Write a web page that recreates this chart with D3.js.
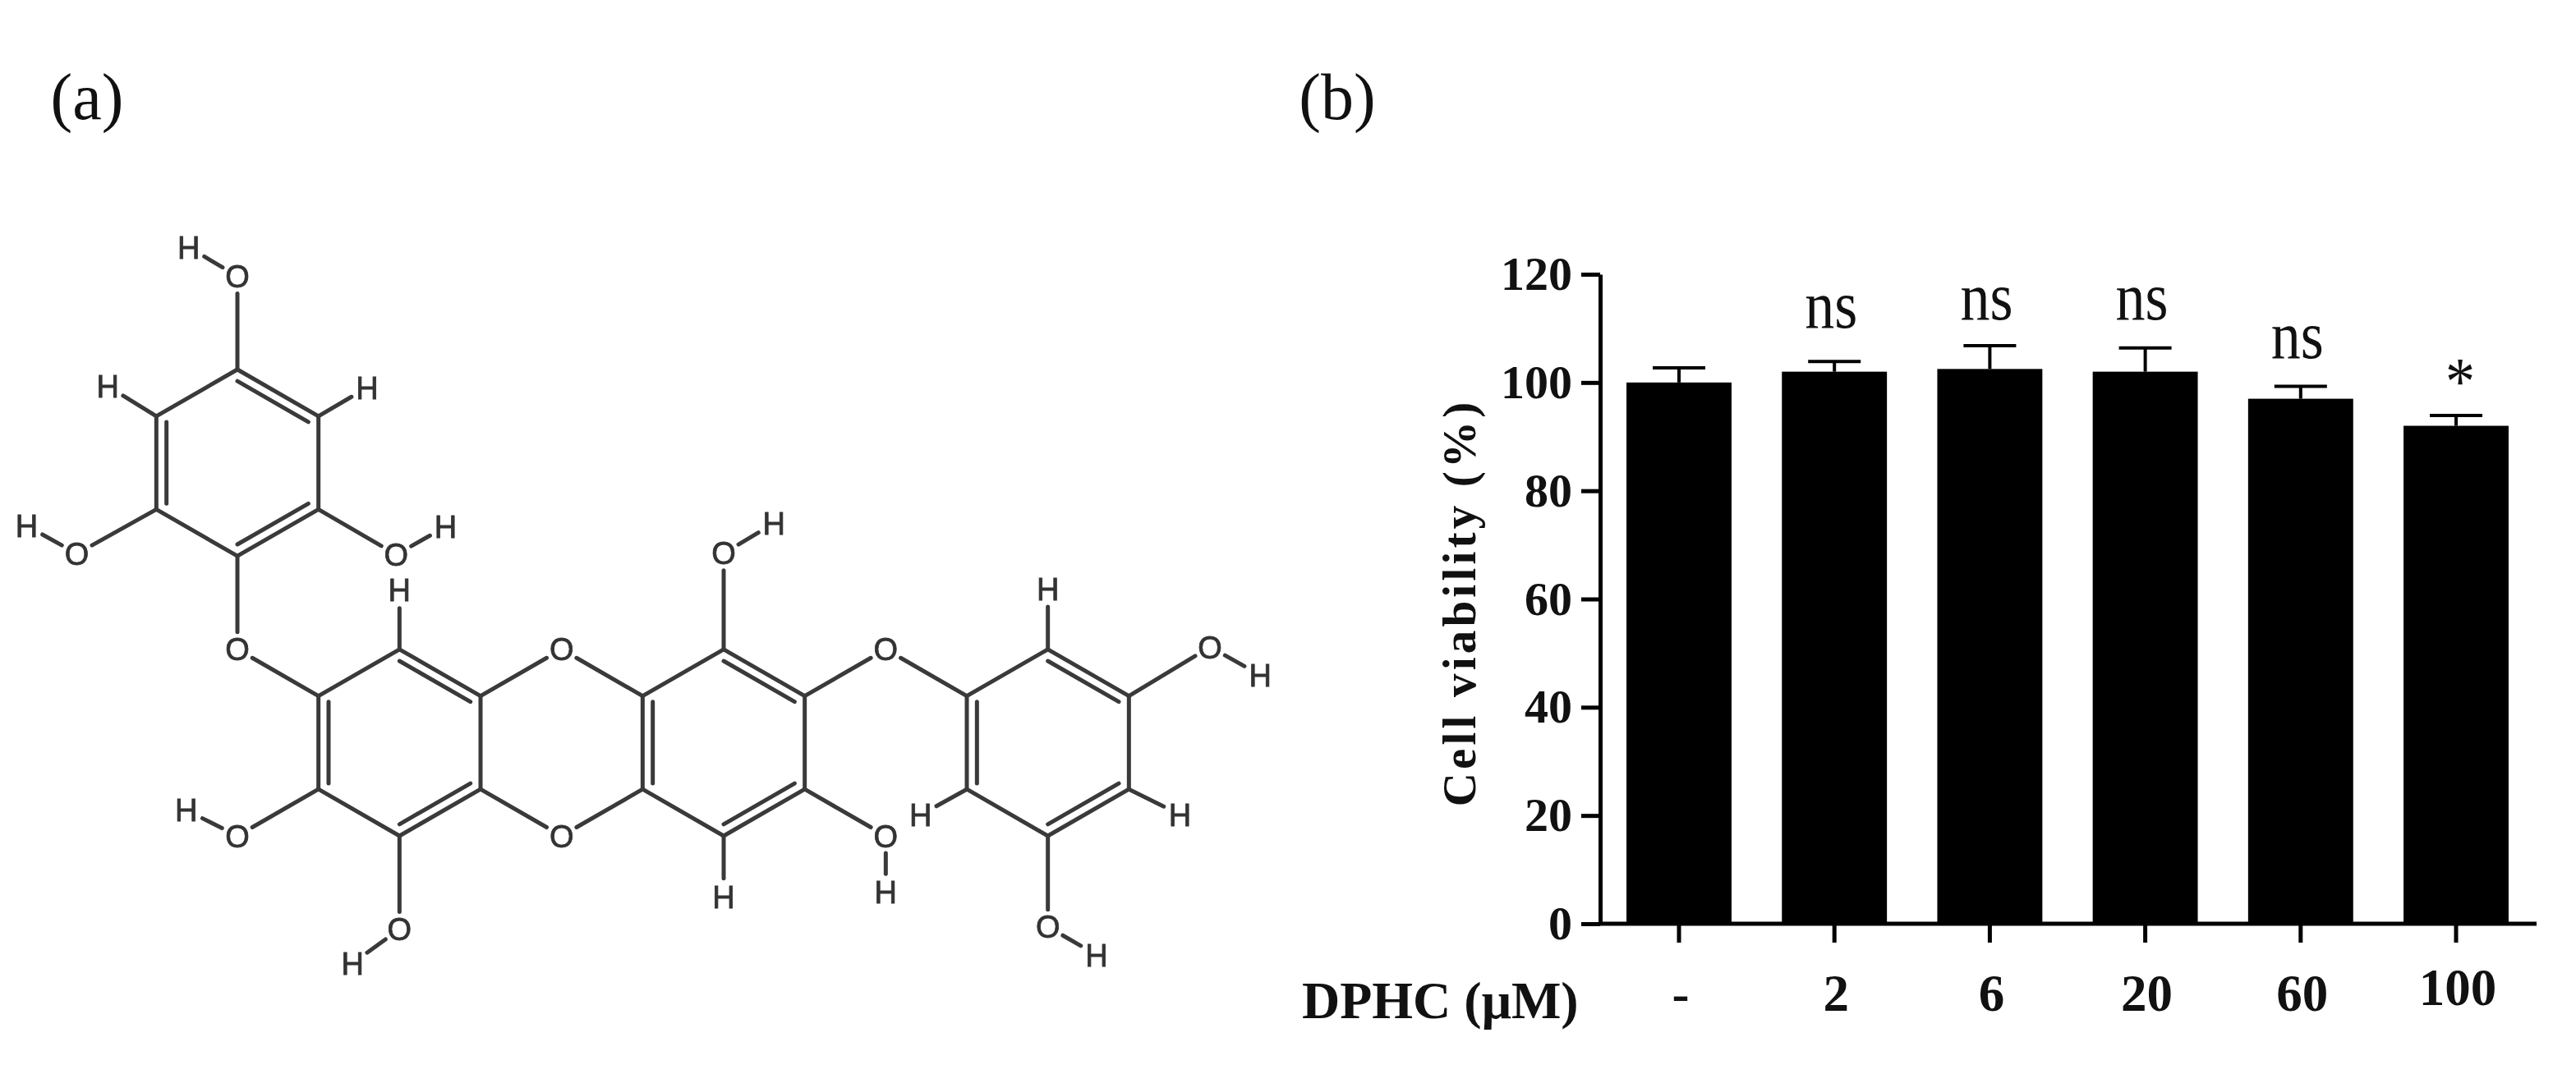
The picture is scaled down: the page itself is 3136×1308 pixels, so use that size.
<!DOCTYPE html>
<html><head><meta charset="utf-8">
<script src="https://cdnjs.cloudflare.com/ajax/libs/d3/7.8.5/d3.min.js"></script>
<style>html,body{margin:0;padding:0;background:#fff}svg{display:block;filter:blur(0.7px)}</style>
</head><body><svg id="c" width="3136" height="1308"></svg>
<script>
// ---- bar chart data
const categories = ["-", "2", "6", "20", "60", "100"];
const viability = [100, 102, 102.5, 102, 97, 92];
const errorTop = [102.7, 103.9, 106.8, 106.4, 99.3, 93.9];
const sigLabels = ["", "ns", "ns", "ns", "ns", "*"];
const sigValues = [null, 110.1, 111.7, 111.7, 104.5, 96];
const yTicks = [0, 20, 40, 60, 80, 100, 120];
const xLabelRaise = [0, 0, 0, 0, 0, 7];
// ---- molecule data, on a hexagonal lattice (column, row)
const ringNames = ["a", "b", "c", "d"];
const ringTops = [[0, 0], [2, 6], [6, 6], [10, 6]];
const ringOffsets = [[0, 0], [1, 1], [1, 3], [0, 4], [-1, 3], [-1, 1]];
const doubleEdges = [[0, 1], [2, 3], [4, 5]];
const heteroAtoms = [
  ["o1","O",0,-2],["h1","H",-.6,-2.62],["o2","O",-1.98,3.95],["h2","H",-2.6,3.35],
  ["o3","O",1.96,3.97],["h3","H",2.57,3.37],["h4","H",-1.6,.36],["h5","H",1.6,.39],
  ["o4","O",0,6],["h6","H",2,4.73],["o5","O",4,6],["o6","O",4,10],
  ["o7","O",0,10],["h7","H",-.63,9.45],["o8","O",2,12],["h8","H",1.42,12.73],
  ["o9","O",6,3.94],["h9","H",6.62,3.3],["o10","O",8,6],["h10","H",10,4.7],
  ["o11","O",12,5.95],["h11","H",12.62,6.55],["h12","H",8.43,9.55],["h13","H",11.63,9.54],
  ["o12","O",10,11.95],["h14","H",10.6,12.55],["o13","O",8,10],["h15","H",8,11.2],["h16","H",6,11.3]
];
const extraBonds = [
  ["a0","o1"],["o1","h1"],["a4","o2"],["o2","h2"],["a2","o3"],["o3","h3"],["a5","h4"],["a1","h5"],
  ["a3","o4"],["o4","b5"],["b0","h6"],["b1","o5"],["o5","c5"],["b2","o6"],["o6","c4"],
  ["b4","o7"],["o7","h7"],["b3","o8"],["o8","h8"],["c0","o9"],["o9","h9"],
  ["c1","o10"],["o10","d5"],["d0","h10"],["d1","o11"],["o11","h11"],["d4","h12"],["d2","h13"],
  ["d3","o12"],["o12","h14"],["c2","o13"],["o13","h15"],["c3","h16"]
];
const panelLabels = ["(a)", "(b)"];

const svg = d3.select("#c");
const ser = "'Liberation Serif','Times New Roman',serif";

// ---- panel letters
const panelX = d3.scaleOrdinal().domain(panelLabels).range([106, 1628]);
svg.selectAll("text.panel").data(panelLabels).join("text").attr("class","panel")
  .attr("x",d=>panelX(d)).attr("y",145).attr("text-anchor","middle")
  .attr("font-family",ser).attr("font-size",80).attr("fill","#111").text(d=>d);

// ---- molecule
const mx = d3.scaleLinear().domain([0,12]).range([289,1473]);
const my = d3.scaleLinear().domain([0,10]).range([450,1018]);
const atoms = new Map();
ringNames.forEach((n,i)=>ringOffsets.forEach((o,k)=>{
  atoms.set(n+k,{el:"C",c:ringTops[i][0]+o[0],r:ringTops[i][1]+o[1]});
}));
heteroAtoms.forEach(a=>atoms.set(a[0],{el:a[1],c:a[2],r:a[3]}));
const P = k=>{const a=atoms.get(k);return {x:mx(a.c),y:my(a.r),el:a.el};};
const trim = {C:0,O:21,H:22};
const segs = [];
function bond(p,q){
  const L=Math.hypot(q.x-p.x,q.y-p.y),ux=(q.x-p.x)/L,uy=(q.y-p.y)/L;
  segs.push({x1:p.x+ux*trim[p.el],y1:p.y+uy*trim[p.el],x2:q.x-ux*trim[q.el],y2:q.y-uy*trim[q.el]});
}
ringNames.forEach((n,i)=>{
  for(let k=0;k<6;k++) bond(P(n+k),P(n+((k+1)%6)));
  const cen={x:mx(ringTops[i][0]),y:my(ringTops[i][1]+2)};
  doubleEdges.forEach(e=>{
    const a=P(n+e[0]),b=P(n+e[1]),lerp=(p)=>({x:p.x+(cen.x-p.x)*.125,y:p.y+(cen.y-p.y)*.125,el:"C"});
    bond(lerp(a),lerp(b));
  });
});
extraBonds.forEach(b=>bond(P(b[0]),P(b[1])));
const mol = svg.append("g");
mol.selectAll("line").data(segs).join("line")
  .attr("x1",d=>d.x1).attr("y1",d=>d.y1).attr("x2",d=>d.x2).attr("y2",d=>d.y2)
  .attr("stroke","#3a3a3a").attr("stroke-width",5).attr("stroke-linecap","round");
mol.selectAll("text").data(heteroAtoms).join("text")
  .attr("x",d=>mx(d[2])).attr("y",d=>my(d[3])).attr("dy",".36em").attr("text-anchor","middle")
  .attr("font-family","'Liberation Sans',Arial,sans-serif").attr("font-size",38).attr("fill","#333")
  .attr("stroke","#333").attr("stroke-width",.8)
  .text(d=>d[1]);

// ---- bar chart
const x = d3.scaleBand().domain(categories).range([1949.4,3084.6]).paddingInner(.324).paddingOuter(.162);
const y = d3.scaleLinear().domain([0,120]).range([1125,334]);
const chart = svg.append("g");
const rows = categories.map((c,i)=>({c,v:viability[i],e:errorTop[i],s:sigLabels[i],sv:sigValues[i]}));
const cx = d=>x(d.c)+x.bandwidth()/2;

chart.selectAll("rect").data(rows).join("rect")
  .attr("x",d=>x(d.c)).attr("width",x.bandwidth())
  .attr("y",d=>y(d.v)).attr("height",d=>y(0)-y(d.v)).attr("fill","#000");
chart.selectAll("line.stem").data(rows).join("line").attr("class","stem")
  .attr("x1",cx).attr("x2",cx).attr("y1",d=>y(d.v)).attr("y2",d=>y(d.e))
  .attr("stroke","#000").attr("stroke-width",4);
chart.selectAll("line.cap").data(rows).join("line").attr("class","cap")
  .attr("x1",d=>cx(d)-32).attr("x2",d=>cx(d)+32).attr("y1",d=>y(d.e)).attr("y2",d=>y(d.e))
  .attr("stroke","#000").attr("stroke-width",4);
chart.selectAll("text.sig").data(rows.filter(d=>d.s)).join("text").attr("class","sig")
  .attr("transform",d=>`translate(${cx(d)+(d.s==="*"?5:-4)},${y(d.sv)}) scale(1,1.15)`).attr("text-anchor","middle")
  .attr("font-family",ser).attr("font-size",72).attr("fill","#111").text(d=>d.s);

const yAxis = chart.append("g").attr("transform","translate(1948,0)")
  .call(d3.axisLeft(y).tickValues(yTicks).tickSize(23).tickPadding(11).tickSizeOuter(0));
const xAxis = chart.append("g").attr("transform","translate(0,1125)")
  .call(d3.axisBottom(x).tickSize(23).tickPadding(0).tickSizeOuter(0));
xAxis.select(".domain").attr("d",`M1948,0H${x.range()[1]+3.4}`);
[yAxis,xAxis].forEach(g=>{
  g.select(".domain").attr("stroke","#000").attr("stroke-width",5);
  g.selectAll(".tick line").attr("stroke","#000").attr("stroke-width",5);
  g.selectAll(".tick text").attr("font-family",ser).attr("font-weight","bold").attr("fill","#111");
});
yAxis.selectAll(".tick text").attr("font-size",58);
xAxis.selectAll(".tick text").attr("font-size",63).attr("dy",0)
  .attr("x",2).attr("y",(d,i)=>106-xLabelRaise[i]);
svg.append("text").attr("transform","translate(1796,734) rotate(-90)")
  .attr("text-anchor","middle").attr("font-family",ser).attr("font-weight","bold")
  .attr("font-size",57).attr("letter-spacing",4.2).attr("fill","#111").text("Cell viability (%)");
svg.append("text").attr("x",1585).attr("y",1240)
  .attr("font-family",ser).attr("font-weight","bold").attr("font-size",64).attr("fill","#111")
  .text("DPHC (μM)");
</script></body></html>
